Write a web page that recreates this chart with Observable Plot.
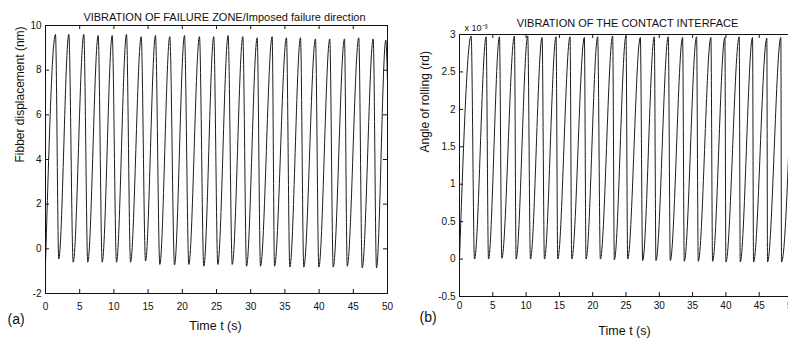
<!DOCTYPE html>
<html><head><meta charset="utf-8">
<script src="https://cdn.jsdelivr.net/npm/d3@7"></script>
<script src="https://cdn.jsdelivr.net/npm/@observablehq/plot@0.6"></script>
<style>
html,body{margin:0;padding:0;overflow:hidden;background:#fff;width:788px;height:341px}
#wrap{position:relative;width:788px;height:341px;overflow:hidden;background:#fff}
#wrap svg{position:absolute;top:0}
</style></head><body><div id="wrap"></div>
<script>
// ---- shared ----
const xTicks = [0, 5, 10, 15, 20, 25, 30, 35, 40, 45, 50];

// ---- panel (a): fibber displacement (nm) ----
const aTitle = "VIBRATION OF FAILURE ZONE/Imposed failure direction";
const aYLabel = "Fibber displacement (nm)";
const aYTicks = [-2, 0, 2, 4, 6, 8, 10];
const aStartT = 0, aStartV = -0.7;
const aPeakT = [1.46, 3.41, 5.6, 7.7, 9.75, 11.84, 13.99, 16.08, 18.17, 20.32, 22.51, 24.6, 26.7, 28.85, 30.95, 33.14, 35.23, 37.28, 39.47, 41.56, 43.71, 45.8, 47.91, 49.75];
const aPeakV = [9.6, 9.6, 9.6, 9.55, 9.55, 9.6, 9.5, 9.55, 9.5, 9.55, 9.5, 9.5, 9.55, 9.5, 9.45, 9.5, 9.45, 9.45, 9.4, 9.4, 9.4, 9.45, 9.4, 9.35];
const aTroughT = [1.94, 4.05, 6.18, 8.29, 10.38, 12.43, 14.62, 16.71, 18.86, 20.95, 23.14, 25.19, 27.3, 29.39, 31.43, 33.48, 35.72, 37.76, 39.96, 42.06, 44.11, 46.3, 48.39];
const aTroughV = [-0.45, -0.6, -0.6, -0.6, -0.6, -0.6, -0.55, -0.7, -0.72, -0.7, -0.78, -0.7, -0.7, -0.78, -0.78, -0.78, -0.82, -0.82, -0.82, -0.82, -0.78, -0.85, -0.85];
const aEndT = 50, aEndV = 7.5;

// ---- panel (b): angle of rolling (rd), x 10^-3 ----
const bTitle = "VIBRATION OF THE CONTACT INTERFACE";
const bYLabel = "Angle of rolling (rd)";
const bYTicks = [-0.5, 0, 0.5, 1, 1.5, 2, 2.5, 3];
const bStartT = 0, bStartV = 0;
const bPeakT = [1.75, 4.0, 6.0, 8.25, 10.25, 12.4, 14.5, 16.6, 18.75, 20.75, 23.0, 25.0, 27.15, 29.25, 31.35, 33.5, 35.6, 37.75, 39.85, 42.0, 44.0, 46.15, 48.25];
const bPeakV = [2.98, 2.97, 2.97, 2.98, 2.98, 2.96, 2.97, 2.97, 2.96, 2.97, 2.98, 2.98, 2.96, 2.97, 2.97, 2.96, 2.97, 2.96, 2.96, 2.97, 2.96, 2.95, 2.96];
const bTroughT = [2.25, 4.35, 6.35, 8.5, 10.65, 12.75, 14.75, 16.85, 19.0, 21.15, 23.25, 25.25, 27.5, 29.5, 31.65, 33.75, 35.85, 38.0, 40.0, 42.15, 44.15, 46.25, 48.35];
const bTroughV = [0.0, 0.0, 0.01, 0.0, 0.0, 0.0, 0.0, 0.0, 0.0, 0.0, -0.01, 0.0, -0.02, -0.02, -0.02, -0.03, -0.03, -0.03, -0.04, -0.04, -0.04, -0.04, -0.04];
const bEndT = 50, bEndV = 2.9;

function series(st, sv, pt, pv, tt, tv, et, ev) {
  const pts = [{t: st, v: sv}, {t: et, v: ev}];
  pt.forEach((t, i) => pts.push({t, v: pv[i]}));
  tt.forEach((t, i) => pts.push({t, v: tv[i]}));
  return pts.sort((a, b) => a.t - b.t);
}
const aData = series(aStartT, aStartV, aPeakT, aPeakV, aTroughT, aTroughV, aEndT, aEndV);
const bData = series(bStartT, bStartV, bPeakT, bPeakV, bTroughT, bTroughV, bEndT, bEndV);

const font = "Liberation Sans, Arial, Helvetica, sans-serif";
const ink = "#111";
const fmt = d => String(d);

function panel({W, H, mL, mR, mT, mB, data, yDom, yTicks, title, tdx, tdy, ylab, ydx, ydy, xdx, xdy, tag, gdx, gdy, xPad, extra}) {
  const fw = W - mL - mR, fh = H - mT - mB;
  return Plot.plot({
    width: W, height: H,
    marginLeft: mL, marginRight: mR, marginTop: mT, marginBottom: mB,
    style: {fontFamily: font, fontSize: "10px", background: "transparent", color: ink, overflow: "visible"},
    x: {domain: [0, 50], label: null},
    y: {domain: yDom, label: null},
    marks: [
      Plot.line(data, {x: "t", y: "v", curve: "monotone-x", stroke: "#1c1c1c", strokeWidth: 1}),
      Plot.frame({stroke: ink, strokeWidth: 1}),
      Plot.tickX(xTicks, {x: d => d, insetTop: fh - 4, stroke: ink}),
      Plot.tickX(xTicks, {x: d => d, insetBottom: fh - 4, stroke: ink}),
      Plot.tickY(yTicks, {y: d => d, insetRight: fw - 4, stroke: ink}),
      Plot.tickY(yTicks, {y: d => d, insetLeft: fw - 4, stroke: ink}),
      Plot.axisX(xTicks, {tickSize: 0, tickPadding: xPad, tickFormat: fmt, label: null, fontSize: 10}),
      Plot.axisY(yTicks, {tickSize: 0, tickPadding: 4, tickFormat: fmt, label: null, fontSize: 10}),
      Plot.text([title], {frameAnchor: "top", dx: tdx, dy: tdy, fontSize: 11, lineAnchor: "middle", fill: ink}),
      Plot.text([ylab], {frameAnchor: "left", rotate: -90, dx: ydx, dy: ydy, fontSize: 12, lineAnchor: "middle", fill: ink}),
      Plot.text(["Time t (s)"], {frameAnchor: "bottom", dx: xdx, dy: xdy, fontSize: 12.5, lineAnchor: "middle", fill: ink}),
      Plot.text([tag], {frameAnchor: "bottom-left", dx: gdx, dy: gdy, fontSize: 14, textAnchor: "start", lineAnchor: "middle", fill: ink}),
      ...(extra || [])
    ]
  });
}

const svgA = panel({W: 394, H: 341, mL: 45, mR: 7, mT: 25, mB: 48, data: aData, yDom: [-2, 10], yTicks: aYTicks,
  title: aTitle, tdx: 8, tdy: -8, ylab: aYLabel, ydx: -25, ydy: 3, xdx: -1, xdy: 32, tag: "(a)", gdx: -38, gdy: 26, xPad: 9});
svgA.style.left = "0px";

const svgB = panel({W: 400, H: 341, mL: 65, mR: 2, mT: 34, mB: 45, data: bData, yDom: [-0.5, 3], yTicks: bYTicks,
  title: bTitle, tdx: 1.5, tdy: -11, ylab: bYLabel, ydx: -34, ydy: -13, xdx: -1.5, xdy: 34, tag: "(b)", gdx: -40, gdy: 21, xPad: 5,
  extra: [Plot.text(["x 10\u207B\u00B3"], {frameAnchor: "top-left", dx: 5, dy: -6, fontSize: 9, textAnchor: "start", lineAnchor: "middle", fill: ink})]});
svgB.style.left = "394px";

const wrap = document.getElementById("wrap");
wrap.appendChild(svgA);
wrap.appendChild(svgB);
</script></body></html>
